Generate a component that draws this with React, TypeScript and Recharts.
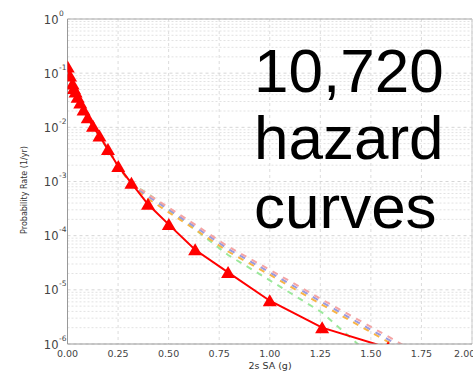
import React from 'react';
import { LineChart, Line, XAxis, YAxis, CartesianGrid, ReferenceLine } from 'recharts';

const saValues = [0.001, 0.0126, 0.025, 0.0316, 0.0398, 0.0501, 0.0631, 0.0794, 0.1, 0.126, 0.158, 0.2, 0.251, 0.316, 0.398, 0.501, 0.631, 0.794, 1.0, 1.259, 1.585, 1.995];

const redRates = [0.13, 0.089, 0.063, 0.052, 0.045, 0.036, 0.028, 0.021, 0.015, 0.0105, 0.0069, 0.0039, 0.0019, 0.00093, 0.00038, 0.00016, 0.000055, 0.000021, 0.0000063, 0.000002, 0.00000085, 0.00000032];
const pinkRates = [0.13, 0.09, 0.064, 0.053, 0.046, 0.037, 0.029, 0.022, 0.0155, 0.011, 0.0072, 0.0041, 0.002, 0.00091, 0.00058, 0.00033, 0.00016, 0.000063, 0.0000235, 0.0000066, 0.00000138, 0.00000018];
const blueRates = [0.13, 0.09, 0.063, 0.053, 0.045, 0.037, 0.029, 0.022, 0.015, 0.011, 0.0071, 0.004, 0.002, 0.00089, 0.00053, 0.0003, 0.000145, 0.000057, 0.000021, 0.0000059, 0.00000122, 0.00000016];
const orangeRates = [0.13, 0.089, 0.063, 0.052, 0.045, 0.036, 0.028, 0.021, 0.015, 0.0107, 0.007, 0.004, 0.0019, 0.00087, 0.00048, 0.00027, 0.00013, 0.000051, 0.000019, 0.0000053, 0.0000011, 0.00000014];
const greenRates = [0.13, 0.088, 0.062, 0.051, 0.044, 0.035, 0.027, 0.02, 0.0145, 0.0102, 0.0068, 0.0038, 0.0019, 0.0009, 0.0006, 0.0003, 0.00013, 0.000044, 0.000015, 0.0000038, 0.00000032, 0.00000002];

const xTicks = [0, 0.25, 0.5, 0.75, 1.0, 1.25, 1.5, 1.75, 2.0];
const yTicks = [1e-6, 1e-5, 1e-4, 1e-3, 1e-2, 1e-1, 1];
const minorSteps = [2, 3, 4, 5, 6, 7, 8, 9];

const chartData = saValues.map((sa, i) => ({
  sa,
  red: redRates[i],
  pink: pinkRates[i],
  blue: blueRates[i],
  orange: orangeRates[i],
  green: greenRates[i],
}));

const minorLines: number[] = [];
yTicks.slice(0, -1).forEach((d) => minorSteps.forEach((m) => minorLines.push(d * m)));

const FONT = 'DejaVu Sans, sans-serif';

const LogTick = (props: any) => {
  const { x, y, payload } = props;
  const exp = Math.round(Math.log10(payload.value));
  return (
    <g>
      <text x={x - 9} y={y + 4.6} textAnchor="end" fontSize={11.5} fill="#444" fontFamily={FONT}>
        10
      </text>
      <text x={x - 8.5} y={y - 3.5} textAnchor="start" fontSize={7.5} fill="#444" fontFamily={FONT}>
        {exp === 0 ? '0' : String(exp)}
      </text>
    </g>
  );
};

const Triangle = (props: any) => {
  const { cx, cy } = props;
  if (cx == null || cy == null) return null;
  return <path d={`M${cx},${cy - 6.5} L${cx + 7},${cy + 5.5} L${cx - 7},${cy + 5.5} Z`} fill="#ff0000" />;
};

const YLabel = () => (
  <text x={27} y={190} transform="rotate(-90 27 190)" textAnchor="middle" fontSize={8} fill="#333" fontFamily={FONT}>
    Probability Rate (1/yr)
  </text>
);

const XLabel = () => (
  <text x={270} y={369} textAnchor="middle" fontSize={9.5} fill="#333" fontFamily={FONT}>
    2s SA (g)
  </text>
);

export default function App() {
  return (
    <div style={{ position: 'absolute', left: 0, top: 0, width: 473, height: 372, background: '#fff' }}>
      <LineChart width={473} height={372} data={chartData} margin={{ top: 19, right: 1, bottom: 0, left: 0 }}>
        <CartesianGrid horizontal={false} stroke="#dcdcdc" strokeDasharray="3 3" />
        {minorLines.map((v) => (
          <ReferenceLine key={'m' + v} y={v} stroke="#e2e2e2" strokeDasharray="2 2" />
        ))}
        {yTicks.map((v) => (
          <ReferenceLine key={'d' + v} y={v} stroke="#d6d6d6" strokeDasharray="3 3" />
        ))}
        <ReferenceLine y={1} stroke="#aaa" />
        <ReferenceLine x={2} stroke="#ccc" />
        <XAxis
          type="number"
          dataKey="sa"
          domain={[0, 2]}
          ticks={xTicks}
          tickFormatter={(v) => v.toFixed(2)}
          tickLine={false}
          tickSize={0}
          tickMargin={6}
          stroke="#999"
          tick={{ fontSize: 9.5, fill: '#444', fontFamily: FONT }}
          height={28}
          label={<XLabel />}
          allowDataOverflow
        />
        <YAxis
          scale="log"
          domain={[1e-6, 1]}
          ticks={yTicks}
          allowDataOverflow
          tickLine={false}
          tickSize={0}
          tickMargin={0}
          stroke="#999"
          width={67.5}
          tick={<LogTick />}
          label={<YLabel />}
        />
        <Line dataKey="green" stroke="#9be89b" strokeWidth={2} strokeDasharray="6 6" dot={false} isAnimationActive={false} />
        <Line dataKey="orange" stroke="#f8b446" strokeWidth={2} strokeDasharray="6 6" dot={false} isAnimationActive={false} />
        <Line dataKey="blue" stroke="#9a9ae0" strokeWidth={2} strokeDasharray="6 6" dot={false} isAnimationActive={false} />
        <Line dataKey="pink" stroke="#f4a4a4" strokeWidth={2} strokeDasharray="6 6" dot={false} isAnimationActive={false} />
        <Line dataKey="red" stroke="#ff0000" strokeWidth={2} dot={<Triangle />} isAnimationActive={false} />
      </LineChart>
      <svg width={473} height={372} style={{ position: 'absolute', left: 0, top: 0, pointerEvents: 'none' }}>
        <g fontFamily="Liberation Sans, Arial, sans-serif" fontSize={62} fill="#000">
          <text x={254} y={92}>10,720</text>
          <text x={254} y={159}>hazard</text>
          <text x={254} y={228}>curves</text>
        </g>
      </svg>
    </div>
  );
}
